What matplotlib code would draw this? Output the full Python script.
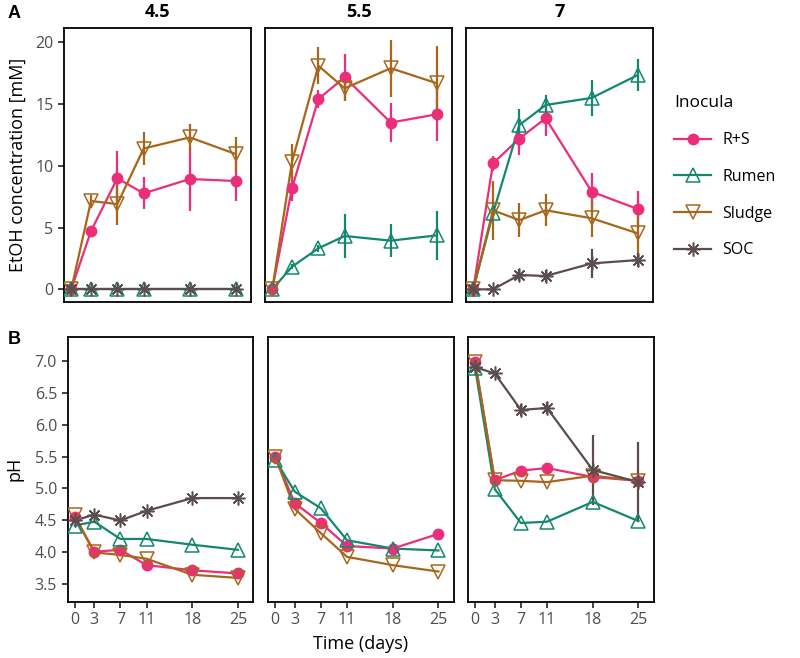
import matplotlib
matplotlib.use("Agg")
import matplotlib.pyplot as plt
from matplotlib.lines import Line2D
import numpy as np

plt.rcParams['font.family'] = ['Open Sans', 'DejaVu Sans']

days = [0, 3, 7, 11, 18, 25]
ph_levels = ["4.5", "5.5", "7"]
inocula = ["R+S", "Rumen", "Sludge", "SOC"]

# EtOH concentration [mM] (mean) per pH level
etoh_rs = {"4.5": [0, 4.72, 8.99, 7.77, 8.93, 8.77],
           "5.5": [0, 8.18, 15.4, 17.17, 13.5, 14.17],
           "7":   [0, 10.2, 12.2, 13.85, 7.9, 6.5]}
etoh_rumen = {"4.5": [0, 0, 0, 0, 0, 0],
              "5.5": [0, 1.83, 3.32, 4.32, 3.94, 4.37],
              "7":   [0, 6.15, 13.3, 14.92, 15.5, 17.35]}
etoh_sludge = {"4.5": [0, 7.15, 6.9, 11.4, 12.3, 10.95],
               "5.5": [0, 10.33, 18.1, 16.27, 17.9, 16.68],
               "7":   [0, 6.4, 5.6, 6.4, 5.75, 4.53]}
etoh_soc = {"4.5": [0, 0, 0, 0, 0, 0],
            "7":   [0, 0, 1.16, 1.08, 2.1, 2.37]}

# EtOH standard deviations
etoh_rs_sd = {"4.5": [0, 0.4, 2.2, 1.3, 2.56, 1.6],
              "5.5": [0, 1.0, 0.7, 1.9, 1.55, 2.2],
              "7":   [0, 0.6, 1.3, 1.4, 1.5, 1.5]}
etoh_rumen_sd = {"4.5": [0, 0, 0, 0, 0, 0],
                 "5.5": [0, 0.2, 0.3, 1.8, 1.35, 2.0],
                 "7":   [0, 0.5, 1.3, 0.8, 1.45, 1.3]}
etoh_sludge_sd = {"4.5": [0, 0.5, 1.7, 1.3, 1.1, 1.4],
                  "5.5": [0, 1.4, 1.5, 1.0, 2.3, 3.0],
                  "7":   [0, 2.4, 1.4, 1.3, 1.5, 2.1]}
etoh_soc_sd = {"4.5": [0, 0, 0, 0, 0, 0],
               "7":   [0, 0, 0.5, 0.5, 1.2, 0.6]}

# pH (mean)
ph_rs = {"4.5": [4.55, 4.01, 4.04, 3.8, 3.72, 3.67],
         "5.5": [5.5, 4.77, 4.46, 4.1, 4.06, 4.29],
         "7":   [6.98, 5.13, 5.28, 5.32, 5.18, 5.12]}
ph_rumen = {"4.5": [4.42, 4.48, 4.21, 4.21, 4.12, 4.04],
            "5.5": [5.45, 4.95, 4.69, 4.19, 4.06, 4.03],
            "7":   [6.88, 4.99, 4.46, 4.48, 4.79, 4.49]}
ph_sludge = {"4.5": [4.58, 4.0, 3.96, 3.9, 3.65, 3.6],
             "5.5": [5.5, 4.68, 4.3, 3.93, 3.8, 3.7],
             "7":   [6.98, 5.13, 5.12, 5.1, 5.2, 5.12]}
ph_soc = {"4.5": [4.5, 4.59, 4.5, 4.65, 4.85, 4.85],
          "7":   [6.9, 6.8, 6.23, 6.26, 5.29, 5.1]}
ph_soc_sd = {"4.5": [0, 0.03, 0.03, 0.03, 0.03, 0.03],
             "7":   [0, 0.03, 0.1, 0.1, 0.55, 0.63]}

colors = {"R+S": "#EC2D7A", "Rumen": "#14876F", "Sludge": "#A8661A", "SOC": "#5B4D4D"}
markers = {"R+S": "o", "Rumen": "^", "Sludge": "v", "SOC": (8, 2, 0)}
msizes = {"R+S": 7.5, "Rumen": 10.5, "Sludge": 10.5, "SOC": 10}

fig = plt.figure(figsize=(8.0, 6.58), dpi=100)
W, H = 800.0, 658.0

top_lefts = [64, 265, 466]
top_w = 187
bot_lefts = [67.5, 268, 468]
bot_w = 185.5
top_y0, top_y1 = 28.3, 301.7
bot_y0, bot_y1 = 336.7, 601.7

tick_col = "#4D4D4D"


def draw(ax, series, sds):
    names = [n for n in inocula if n in series]
    for name in names:
        y = np.array(series[name], dtype=float)
        sd = np.array(sds.get(name, [0] * len(y)), dtype=float)
        ax.vlines(days, y - sd, y + sd, color=colors[name], lw=1.6, zorder=2)
    for name in names:
        ax.plot(days, series[name], color=colors[name], lw=1.6, zorder=3)
    for name in names:
        m = markers[name]
        if name == "R+S":
            ax.plot(days, series[name], ls='none', marker=m, ms=msizes[name],
                    mfc=colors[name], mec=colors[name], zorder=4)
        elif name == "SOC":
            ax.plot(days, series[name], ls='none', marker=m, ms=msizes[name],
                    mec=colors[name], mew=1.1, zorder=4)
        else:
            ax.plot(days, series[name], ls='none', marker=m, ms=msizes[name],
                    mfc='none', mec=colors[name], mew=1.1, zorder=4)


def style(ax):
    for s in ax.spines.values():
        s.set_linewidth(1.3)
        s.set_color("black")
    ax.tick_params(direction='out', length=4, width=1.3, colors="#333333",
                   labelcolor=tick_col, labelsize=11.5)
    ax.set_xlim(-1.1, 27.3)


for i, ph in enumerate(ph_levels):
    ax = fig.add_axes([top_lefts[i] / W, 1 - top_y1 / H, top_w / W, (top_y1 - top_y0) / H])
    series = {"R+S": etoh_rs[ph], "Rumen": etoh_rumen[ph], "Sludge": etoh_sludge[ph]}
    sds = {"R+S": etoh_rs_sd[ph], "Rumen": etoh_rumen_sd[ph], "Sludge": etoh_sludge_sd[ph]}
    if ph in etoh_soc:
        series["SOC"] = etoh_soc[ph]
        sds["SOC"] = etoh_soc_sd[ph]
    draw(ax, series, sds)
    style(ax)
    ax.set_ylim(-1.0, 21.13)
    ax.set_xticks([])
    ax.set_yticks([0, 5, 10, 15, 20])
    if i > 0:
        ax.set_yticks([])
    else:
        ax.set_ylabel("EtOH concentration [mM]", fontsize=13, labelpad=6)
    ax.set_title(ph, fontsize=13, fontweight='bold', pad=8)

    axb = fig.add_axes([bot_lefts[i] / W, 1 - bot_y1 / H, bot_w / W, (bot_y1 - bot_y0) / H])
    series_b = {"R+S": ph_rs[ph], "Rumen": ph_rumen[ph], "Sludge": ph_sludge[ph]}
    sds_b = {}
    if ph in ph_soc:
        series_b["SOC"] = ph_soc[ph]
        sds_b["SOC"] = ph_soc_sd[ph]
    draw(axb, series_b, sds_b)
    style(axb)
    axb.set_ylim(3.228, 7.376)
    axb.set_xticks(days)
    axb.set_xticklabels([str(d) for d in days])
    axb.set_yticks([3.5, 4.0, 4.5, 5.0, 5.5, 6.0, 6.5, 7.0])
    axb.set_yticklabels(["3.5", "4.0", "4.5", "5.0", "5.5", "6.0", "6.5", "7.0"])
    if i > 0:
        axb.set_yticks([])
    else:
        axb.set_ylabel("pH", fontsize=13, labelpad=8)
    if i == 1:
        axb.set_xlabel("Time (days)", fontsize=13, labelpad=5)

fig.text(8 / W, 1 - 13 / H, "A", fontsize=13, fontweight='bold',
         family=['Liberation Sans', 'DejaVu Sans'], ha='left', va='center')
fig.text(8 / W, 1 - 340 / H, "B", fontsize=13, fontweight='bold',
         family=['Liberation Sans', 'DejaVu Sans'], ha='left', va='center')

handles = []
for name in inocula:
    if name == "R+S":
        h = Line2D([], [], color=colors[name], lw=1.6, marker='o', ms=7.5,
                   mfc=colors[name], mec=colors[name])
    elif name == "SOC":
        h = Line2D([], [], color=colors[name], lw=1.6, marker=markers[name], ms=10,
                   mec=colors[name], mew=1.1)
    else:
        h = Line2D([], [], color=colors[name], lw=1.6, marker=markers[name], ms=10.5,
                   mfc='none', mec=colors[name], mew=1.1)
    handles.append(h)

leg = fig.legend(handles, inocula, title="Inocula", loc='upper left',
                 bbox_to_anchor=(668 / W, 1 - 89 / H), frameon=False,
                 fontsize=11.5, title_fontsize=12.5, handlelength=2.3,
                 labelspacing=1.3, handletextpad=0.7, borderaxespad=0)
leg._legend_box.align = "left"

fig.savefig("out.png", dpi=100)
